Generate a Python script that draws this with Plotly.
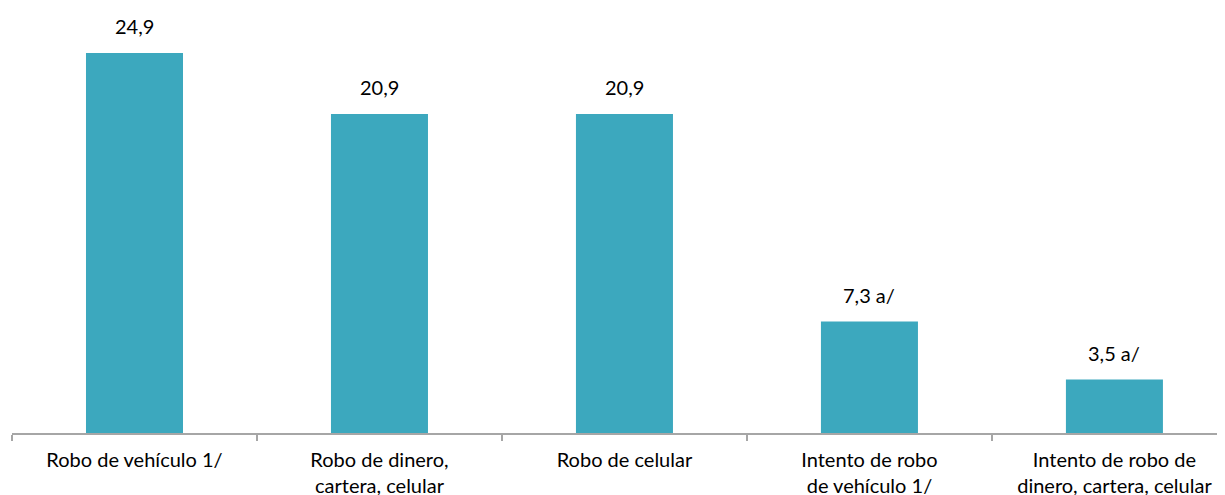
import plotly.graph_objects as go

categories = ["Robo de vehículo 1/", "Robo de dinero,<br>cartera, celular", "Robo de celular",
              "Intento de robo<br>de vehículo 1/", "Intento de robo de<br>dinero, cartera, celular"]
values = [24.9, 20.9, 20.9, 7.3, 3.5]
value_labels = ["24,9", "20,9", "20,9", "7,3 a/", "3,5 a/"]

FONT = "Lato"
PX_PER_UNIT = 15.26
fig = go.Figure()
fig.add_trace(go.Bar(x=categories, y=values, marker_color="#3CA8BE",
                     marker_line_width=0, hoverinfo="skip"))
for c, v, t in zip(categories, values, value_labels):
    fig.add_annotation(x=c, y=v, text=t, showarrow=False, yanchor="middle",
                       yshift=27, font=dict(family=FONT, size=20, color="#000000"))

fig.update_layout(
    width=1225, height=495,
    margin=dict(l=4, r=0, t=0, b=70, autoexpand=False),
    paper_bgcolor="white", plot_bgcolor="white",
    bargap=0.604, showlegend=False,
    xaxis=dict(range=[-0.5, 4.484], showline=True, linecolor="#A6A6A6", linewidth=2,
               ticks="outside", tickson="boundaries", ticklen=6, tickcolor="#A6A6A6",
               tickwidth=2, ticklabelstandoff=8,
               tickfont=dict(family=FONT, size=20, color="#000000"),
               showgrid=False, zeroline=False, automargin=False),
    yaxis=dict(range=[0, 425 / PX_PER_UNIT], visible=False, showgrid=False, zeroline=False),
)
fig.write_html("out.html")
